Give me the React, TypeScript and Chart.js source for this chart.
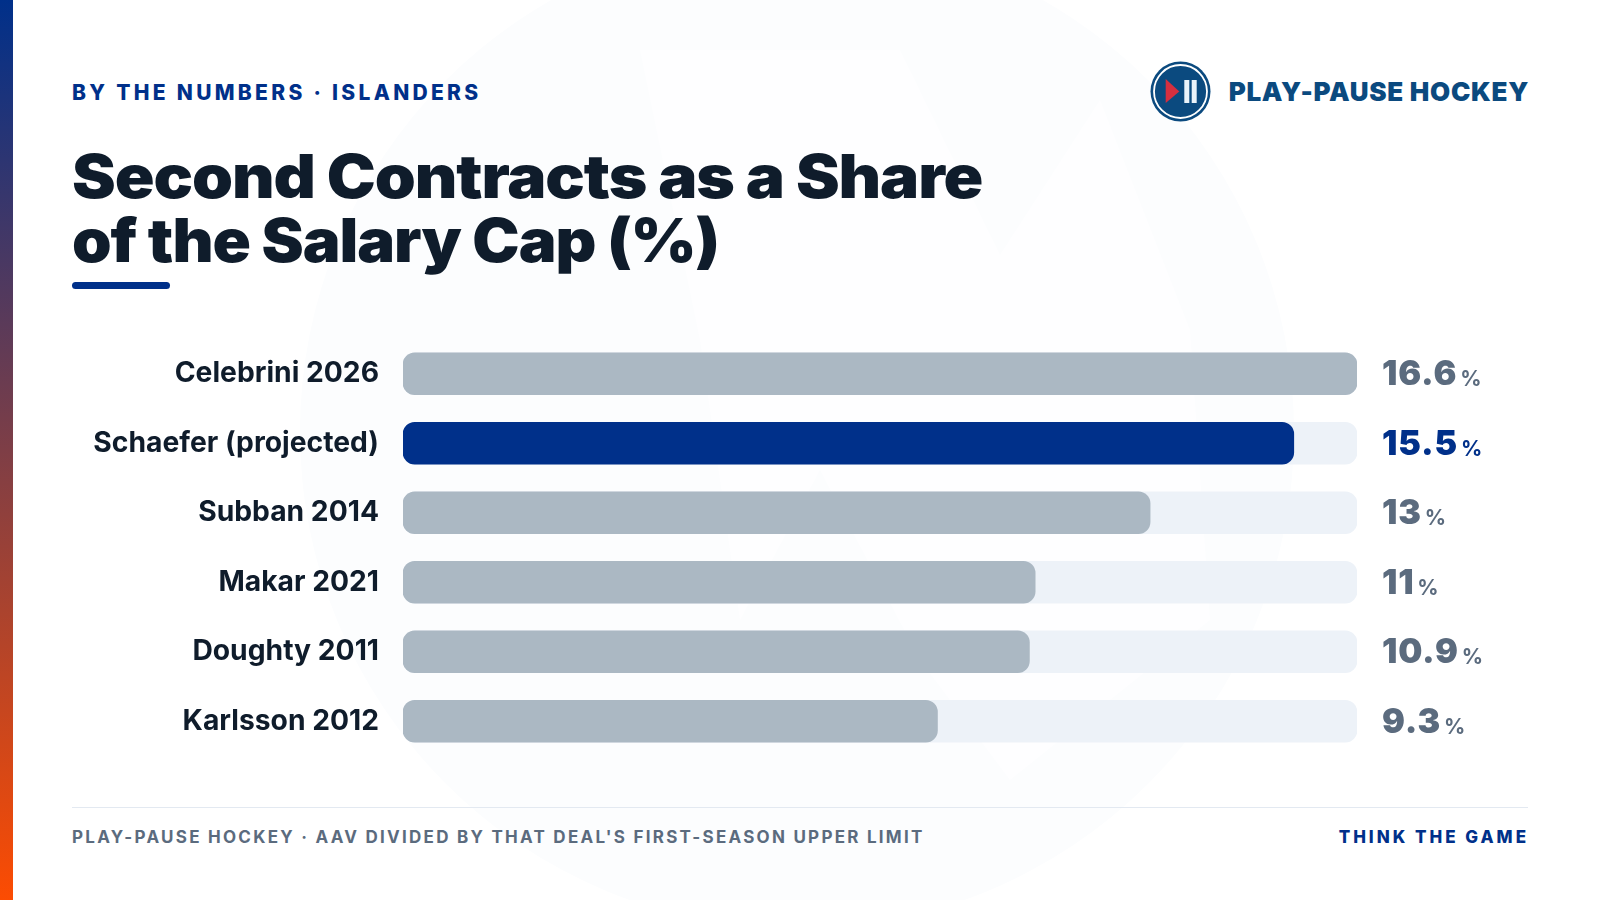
import React, { useEffect, useRef } from "react";
import { Chart, registerables } from "chart.js";

Chart.register(...registerables);

const categories = ["Celebrini 2026", "Schaefer (projected)", "Subban 2014", "Makar 2021", "Doughty 2011", "Karlsson 2012"];
const shares = [16.6, 15.5, 13, 11, 10.9, 9.3];
const valueLabels = ["16.6", "15.5", "13", "11", "10.9", "9.3"];
const capTrack = [16.6, 16.6, 16.6, 16.6, 16.6, 16.6];
const highlightName = "Schaefer (projected)";

const NAVY = "#00308A";
const GREY = "#ABB8C3";
const INK = "#0F1C2B";
const SLATE = "#5B6B7E";
const TRACK = "#EDF2F8";

const FONT = "Inter, 'Noto Sans', sans-serif";

const valuePlugin = {
  id: "valueLabels",
  afterDatasetsDraw(chart: any) {
    const { ctx, chartArea } = chart;
    const meta = chart.getDatasetMeta(1);
    ctx.save();
    ctx.textBaseline = "alphabetic";
    ctx.textAlign = "left";
    meta.data.forEach((bar: any, i: number) => {
      const col = categories[i] === highlightName ? NAVY : SLATE;
      const x = chartArea.right + 25;
      const y = bar.y + 11.5;
      ctx.fillStyle = col;
      ctx.font = `900 34px ${FONT}`;
      ctx.letterSpacing = "0.8px";
      const t = valueLabels[i];
      ctx.fillText(t, x, y);
      const w = ctx.measureText(t).width;
      ctx.font = `700 21px ${FONT}`;
      ctx.letterSpacing = "0px";
      ctx.fillText("%", x + w + 3, y + 1);
    });
    ctx.restore();
  },
};

function BarChart() {
  const ref = useRef<HTMLCanvasElement>(null);
  useEffect(() => {
    const chart = new Chart(ref.current!, {
      type: "bar",
      data: {
        labels: categories,
        datasets: [
          {
            label: "Share of cap",
            data: shares,
            backgroundColor: categories.map((c) => (c === highlightName ? NAVY : GREY)),
            borderRadius: 12,
            borderSkipped: false,
            barThickness: 42,
            grouped: false,
            order: 1,
          },
          {
            label: "Track",
            data: capTrack,
            backgroundColor: TRACK,
            borderRadius: 12,
            borderSkipped: false,
            barThickness: 42,
            grouped: false,
            order: 2,
          },
        ],
      },
      options: {
        indexAxis: "y",
        animation: false,
        responsive: false,
        devicePixelRatio: 1,
        layout: { padding: { left: 0, right: 243, top: 0, bottom: 0 } },
        plugins: { legend: { display: false }, tooltip: { enabled: false } },
        scales: {
          x: { display: false, min: 0, max: 16.6 },
          y: {
            afterFit(scale: any) {
              scale.width = 403;
            },
            grid: { display: false, drawTicks: false },
            border: { display: false },
            ticks: {
              color: INK,
              padding: 24,
              font: { family: FONT, size: 28.25, weight: "700" },
            },
          },
        },
      },
      plugins: [valuePlugin],
    } as any);
    return () => chart.destroy();
  }, []);
  return (
    <canvas
      ref={ref}
      width={1600}
      height={499}
      style={{ position: "absolute", left: 0, top: 298, width: 1600, height: 499 }}
    />
  );
}

function Watermark() {
  return (
    <svg width="1600" height="900" style={{ position: "absolute", left: 0, top: 0 }}>
      <circle cx="797" cy="432" r="497" fill="#FCFDFE" />
      <path d="M640 50 L900 50 L1000 255 L1100 100 L1190 330 L1210 620 L1010 780 L920 660 L820 470 L740 620 L700 340 Z" fill="#FEFEFF" />
    </svg>
  );
}

function Logo() {
  return (
    <svg width="62" height="62" viewBox="0 0 62 62" style={{ position: "absolute", left: 1150, top: 61 }}>
      <circle cx="30.5" cy="30.5" r="30" fill="#0B4A7F" />
      <circle cx="30.5" cy="30.5" r="26.5" fill="none" stroke="#FFFFFF" strokeWidth="1.8" />
      <path d="M15.7 18 L29.3 30.5 L15.7 42 Z" fill="#D62F3F" />
      <rect x="34.3" y="19" width="5" height="23" fill="#EAF3FA" />
      <rect x="41.7" y="19" width="5" height="23" fill="#EAF3FA" />
    </svg>
  );
}

const abs = (s: React.CSSProperties): React.CSSProperties => ({ position: "absolute", whiteSpace: "nowrap", fontFamily: FONT, ...s });

export default function App() {
  useEffect(() => {
    document.body.style.margin = "0";
    document.body.style.background = "#fff";
  }, []);
  const title = (top: number, scale: number): React.CSSProperties =>
    abs({ left: 72, top, fontSize: 60, lineHeight: "64px", fontWeight: 900, letterSpacing: -1, color: INK, transform: `scaleX(${scale})`, transformOrigin: "left center" });
  return (
    <div style={{ position: "absolute", left: 0, top: 0, width: 1600, height: 900, overflow: "hidden", background: "#fff" }}>
      <Watermark />
      <div style={{ position: "absolute", left: 0, top: 0, width: 13, height: 900, background: `linear-gradient(180deg, ${NAVY} 0%, #FC4C02 100%)` }} />
      <div style={abs({ left: 72, top: 80, fontSize: 21, fontWeight: 800, letterSpacing: 3.3, color: NAVY })}>BY THE NUMBERS · ISLANDERS</div>
      <div style={title(144, 1.095)}>Second Contracts as a Share</div>
      <div style={title(208, 1.057)}>of the Salary Cap (%)</div>
      <div style={{ position: "absolute", left: 72, top: 282, width: 98, height: 7, borderRadius: 4, background: NAVY }} />
      <Logo />
      <div style={abs({ right: 71, top: 76, fontSize: 26, fontWeight: 900, letterSpacing: 0.7, color: "#0B4A7F" })}>PLAY-PAUSE HOCKEY</div>
      <BarChart />
      <div style={{ position: "absolute", left: 72, top: 807, width: 1456, height: 1, background: "#E3E9F1" }} />
      <div style={abs({ left: 72, top: 827, fontSize: 17, fontWeight: 700, letterSpacing: 2.26, color: SLATE })}>PLAY-PAUSE HOCKEY · AAV DIVIDED BY THAT DEAL'S FIRST-SEASON UPPER LIMIT</div>
      <div style={abs({ right: 71, top: 827, fontSize: 17, fontWeight: 800, letterSpacing: 3.0, color: NAVY })}>THINK THE GAME</div>
    </div>
  );
}
